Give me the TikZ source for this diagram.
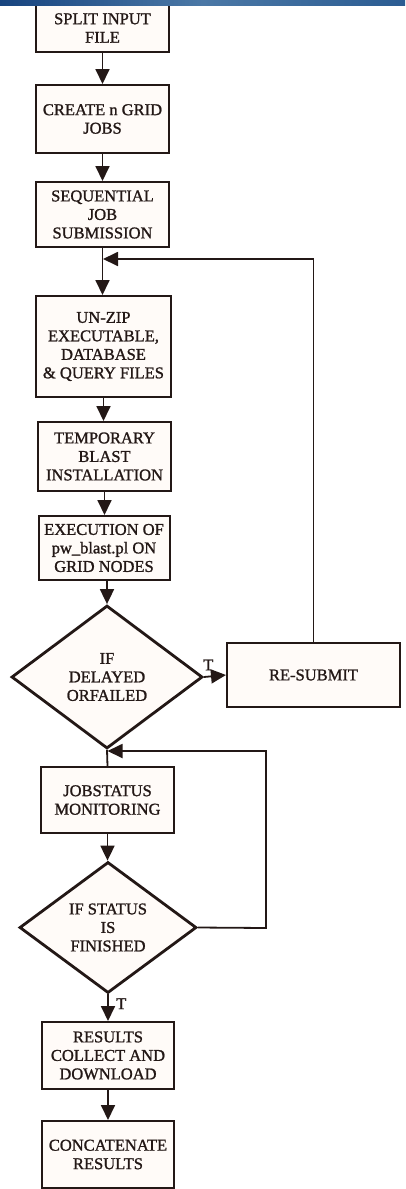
\documentclass[tikz,border=0pt]{standalone}
\usepackage{fontspec}
\setmainfont{Liberation Serif}[FakeBold=1.2]
\usetikzlibrary{shapes.geometric,arrows.meta}
\definecolor{ink}{HTML}{231816}
\definecolor{boxfill}{HTML}{FFFBF8}
\definecolor{barA}{HTML}{17447F}
\definecolor{barB}{HTML}{4B78A6}
\definecolor{barC}{HTML}{2B5C92}
\begin{document}
\begin{tikzpicture}[x=1pt,y=-1pt,
  lbl/.style={font=\fontsize{16.5}{18.5}\selectfont, text=ink},
  box/.style={lbl, draw=ink, line width=2pt, fill=boxfill, inner sep=0pt, align=center},
  dia/.style={lbl, diamond, draw=ink, line width=2.8pt, fill=boxfill, inner sep=0pt, aspect=1.3, align=center},
  ln/.style={draw=ink, line width=1.8pt},
  arr/.style={ln, -{Triangle[length=15pt,width=14pt]}}]
\useasboundingbox (0,0) rectangle (405,1189);
\fill[white] (0,0) rectangle (405,1189);

\node[box, minimum width=133, minimum height=48] (b1) at (102.5,28) {SPLIT INPUT\\FILE};
\node[box, minimum width=133, minimum height=68] (b2) at (102.5,119) {CREATE n GRID\\JOBS};
\node[box, minimum width=133, minimum height=65] (b3) at (102.5,214.5) {SEQUENTIAL\\JOB\\SUBMISSION};
\node[box, minimum width=135, minimum height=101] (b4) at (103.5,346.5) {UN-ZIP\\EXECUTABLE,\\DATABASE\\\& QUERY FILES};
\node[box, minimum width=133, minimum height=69] (b5) at (104.5,456.5) {TEMPORARY\\BLAST\\INSTALLATION};
\node[box, minimum width=131, minimum height=64] (b6) at (104,548) {EXECUTION OF\\pw\_blast.pl ON\\GRID NODES};
\node[dia, minimum width=191, minimum height=143] (d1) at (107,677) {IF\\DELAYED\\ORFAILED};
\node[box, minimum width=173, minimum height=64] (rs) at (313.5,675) {RE-SUBMIT};
\node[box, minimum width=133, minimum height=66] (b7) at (107.5,800) {JOBSTATUS\\MONITORING};
\node[dia, minimum width=177, minimum height=131] (d2) at (108,927.5) {IF STATUS\\IS\\FINISHED};
\node[box, minimum width=132, minimum height=67] (b8) at (108,1055.5) {RESULTS\\COLLECT AND\\DOWNLOAD};
\node[box, minimum width=132, minimum height=67] (b9) at (108,1154.5) {CONCATENATE\\RESULTS};

\coordinate (j1) at (103,259);
\coordinate (j2) at (107.5,751);
\coordinate (c1) at (316,259);
\coordinate (c2) at (266,928);

\draw[arr] (b1.south) -- (b2.north);
\draw[arr] (b2.south) -- (b3.north);
\draw[arr] (b3.south) -- (b3.south |- b4.north);
\draw[arr] (b4.south) -- (b4.south |- b5.north);
\draw[arr] (b5.south) -- (b5.south |- b6.north);
\draw[arr] (d1.north |- b6.south) -- (d1.north);
\draw[arr] (d1.east) -- (rs.west) node[lbl, pos=0.2, above=2pt] (t1) {T};
\draw[arr] (rs.north) |- (j1);
\draw[ln] (d1.south) -- (b7.north);
\draw[arr] (d2.east) -- (c2) |- (j2);
\draw[arr] (b7.south) -- (b7.south |- d2.north);
\draw[arr] (d2.south) -- (b8.north) node[lbl, pos=0.35, right=4pt] (t2) {T};
\draw[arr] (b8.south) -- (b9.north);

\shade[left color=barA, right color=barC, middle color=barB] (0,0) rectangle (405,5);
\end{tikzpicture}
\end{document}
